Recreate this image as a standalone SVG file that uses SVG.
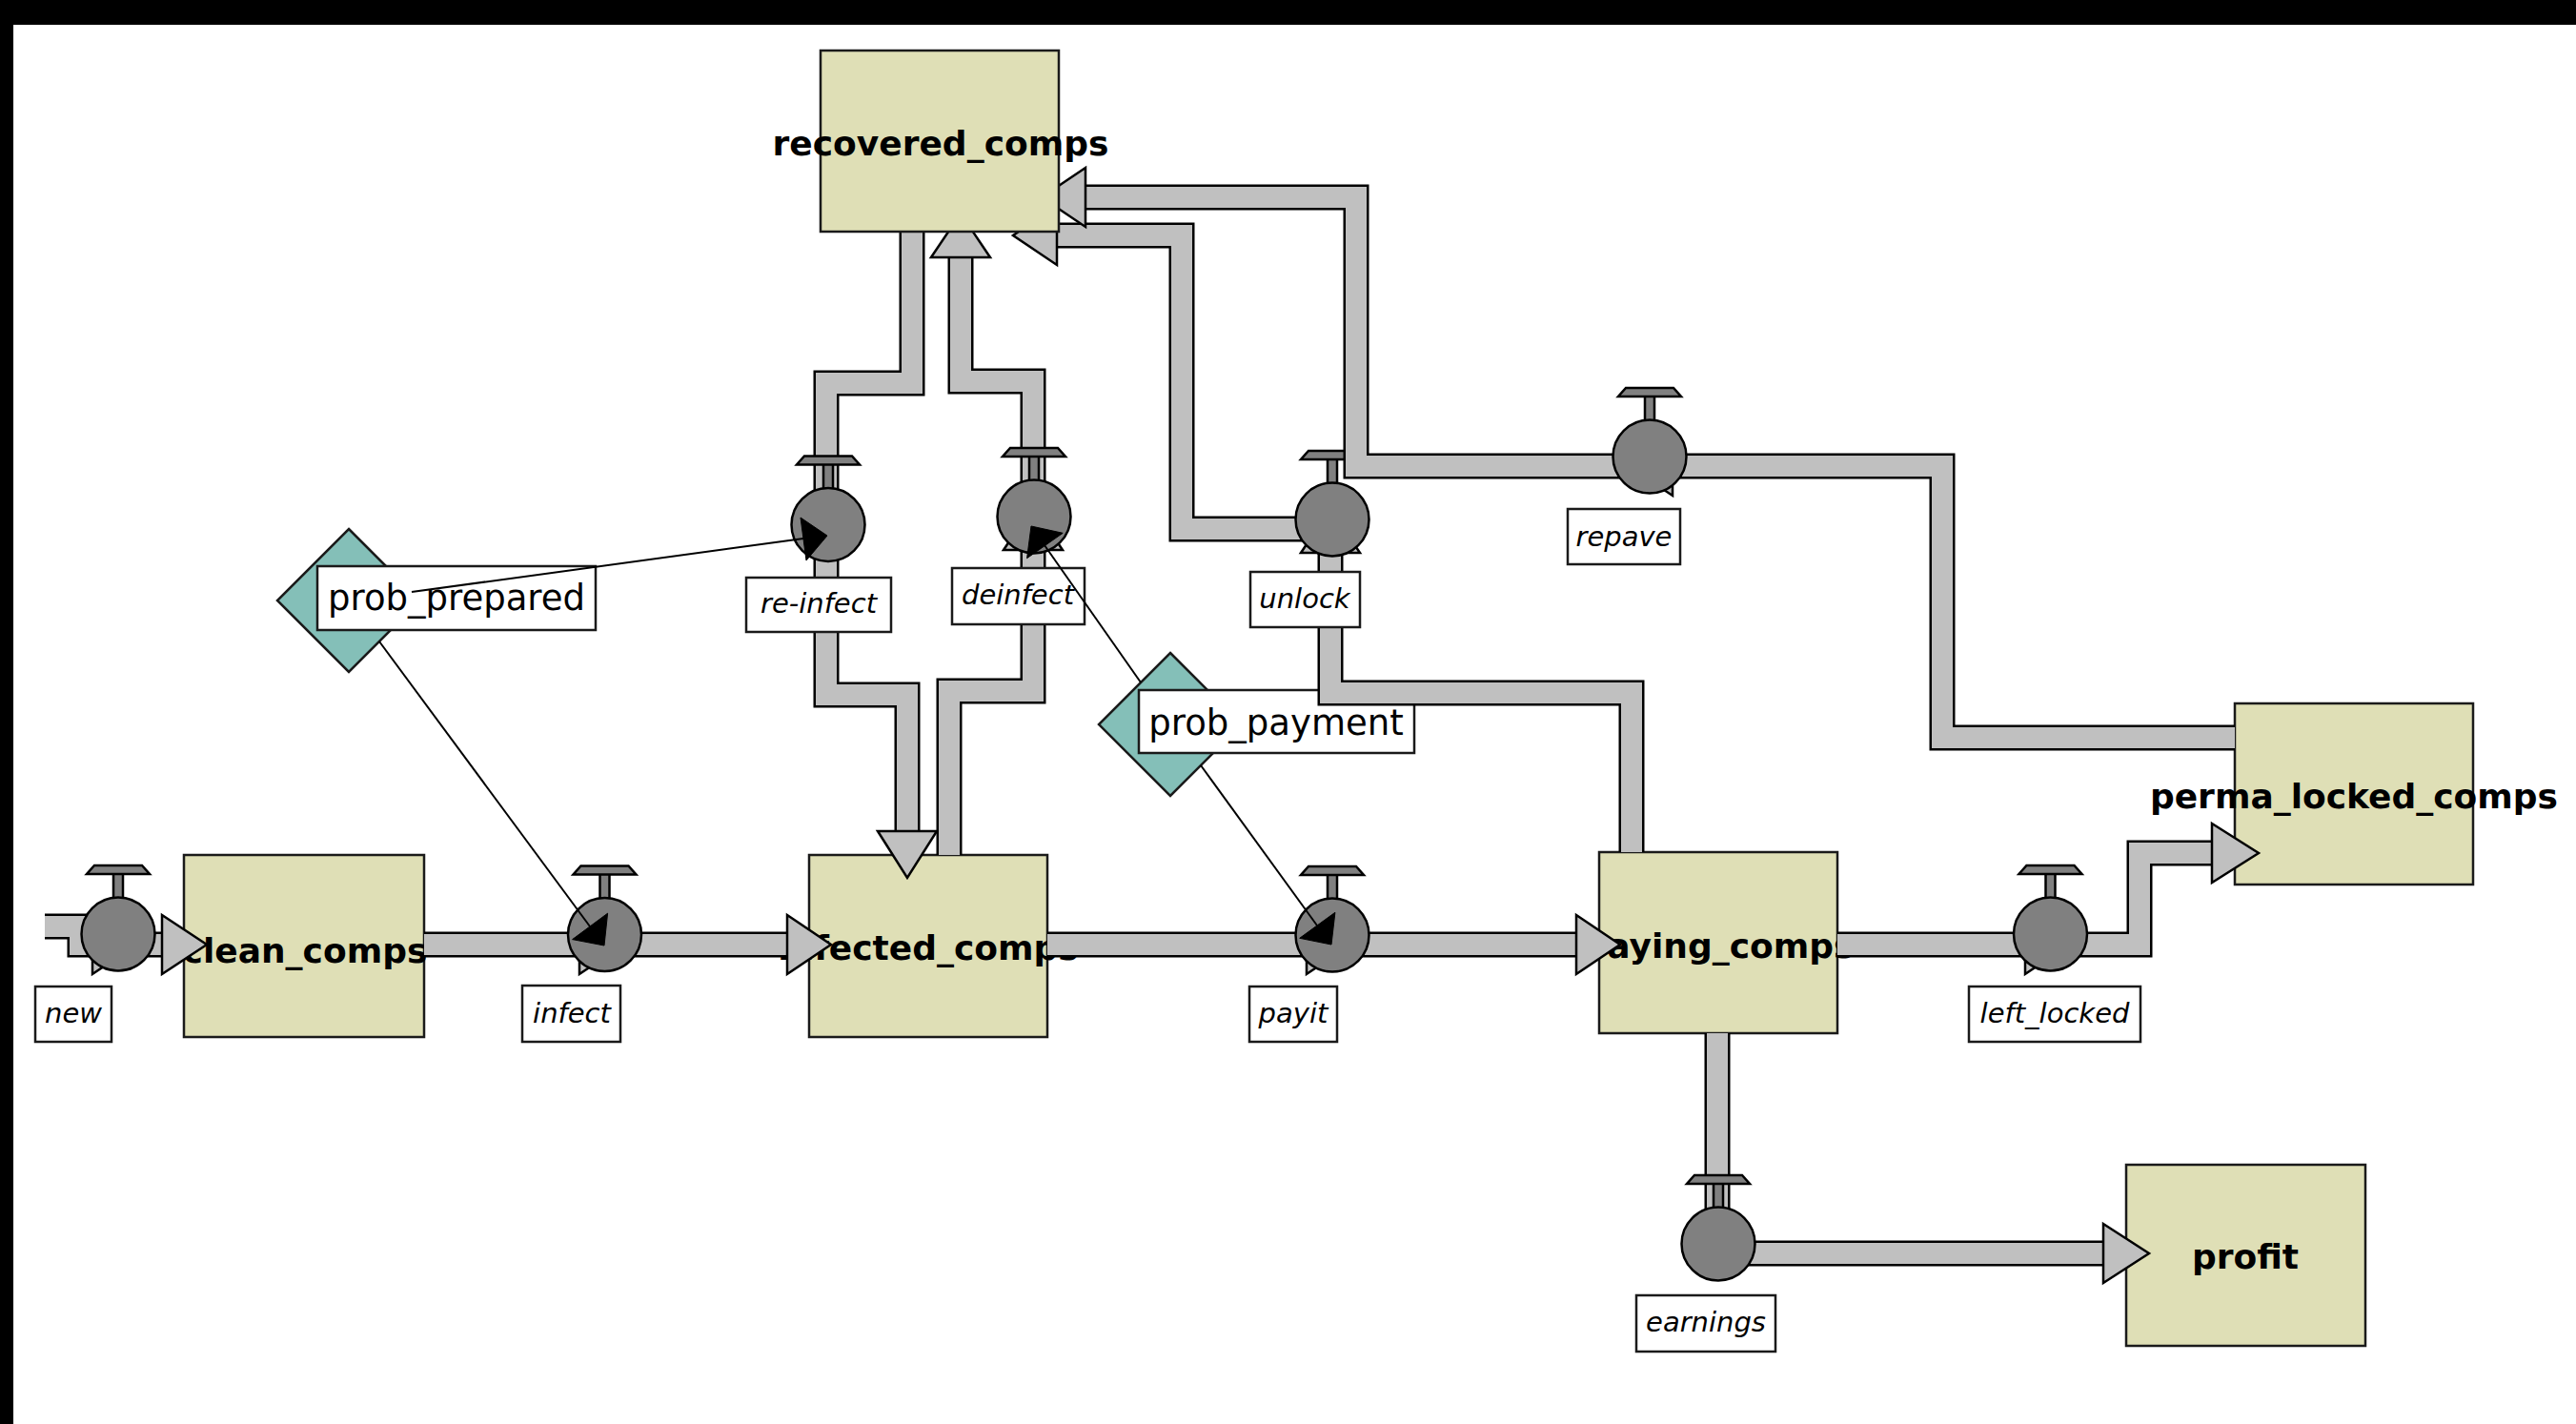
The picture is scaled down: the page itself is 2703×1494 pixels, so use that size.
<svg xmlns="http://www.w3.org/2000/svg" xmlns:xlink="http://www.w3.org/1999/xlink" width="2703" height="1494" viewBox="0 0 2703 1494">
<style>
.stock{fill:#dfdfb6;stroke:#1a1a1a;stroke-width:2.5}
.stxt{font-family:"DejaVu Sans",sans-serif;font-weight:bold;font-size:36px;fill:#000;text-anchor:middle}
.pipeO{fill:none;stroke:#000;stroke-width:27;stroke-linejoin:miter;stroke-linecap:butt}
.pipeI{fill:none;stroke:#c0c0c0;stroke-width:22;stroke-linejoin:miter;stroke-linecap:butt}
.head{fill:#c0c0c0;stroke:#000;stroke-width:2.5;stroke-linejoin:miter}
.vfill{fill:#808080;stroke:#000;stroke-width:2.5}
.lbl{fill:#fff;stroke:#1a1a1a;stroke-width:2.5}
.ftxt{font-family:"DejaVu Sans",sans-serif;font-style:italic;font-size:29px;fill:#000;text-anchor:middle}
.vtxt{font-family:"DejaVu Sans",sans-serif;font-size:37px;fill:#000;text-anchor:middle}
.dia{fill:#84bfb8;stroke:#1a1a1a;stroke-width:2.5}
.link{stroke:#000;stroke-width:2;fill:none}
.lhead{fill:#000;stroke:#000;stroke-width:1}
</style>
<defs>
<g id="valve">
<rect x="-5" y="-64" width="10" height="27" class="vfill" stroke-width="2"/>
<polygon points="-25,-72 25,-72 33,-63 -33,-63" class="vfill" stroke-width="2"/>
<circle cx="0" cy="0" r="38.5" class="vfill"/>
</g>
</defs>
<rect x="0" y="0" width="2703" height="1494" fill="#fff"/>
<rect x="0" y="0" width="2703" height="26" fill="#000"/>
<rect x="0" y="0" width="14" height="1494" fill="#000"/>

<g id="clean_comps">
<rect x="193" y="897" width="252" height="191" class="stock"/>
<text x="320" y="1010" class="stxt">clean_comps</text>
</g>
<g id="infected_comps">
<rect x="849" y="897" width="250" height="191" class="stock"/>
<text x="974" y="1007" class="stxt">infected_comps</text>
</g>
<g id="paying_comps">
<rect x="1678" y="894" width="250" height="190" class="stock"/>
<text x="1803" y="1005" class="stxt">paying_comps</text>
</g>
<g id="perma_locked_comps">
<rect x="2345" y="738" width="250" height="190" class="stock"/>
<text x="2470" y="848" class="stxt">perma_locked_comps</text>
</g>
<g id="profit">
<rect x="2231" y="1222" width="251" height="190" class="stock"/>
<text x="2356" y="1331" class="stxt">profit</text>
</g>

<g id="prob_prepared">
<polygon points="366,555 441,630 366,705 291,630" class="dia"/>
<rect x="333" y="594" width="292" height="67" class="lbl"/>
<text x="479" y="640" class="vtxt">prob_prepared</text>
</g>
<g id="prob_payment">
<polygon points="1228,685 1303,760 1228,835 1153,760" class="dia"/>
<rect x="1195" y="724" width="289" height="66" class="lbl"/>
<text x="1339" y="771" class="vtxt">prob_payment</text>
</g>

<g id="connectors">
<g id="flow_new">
<path d="M47,972 H84 V991 H172" class="pipeO"/><path d="M47,972 H84 V991 H172" class="pipeI"/>
<polygon points="170,960 217,991 170,1022" class="head"/>
<polygon points="97,960 143,991 97,1022" class="head"/>
<use xlink:href="#valve" href="#valve" x="124" y="980"/>
</g>
<g id="flow_infect">
<path d="M445,991 H828" class="pipeO"/><path d="M445,991 H828" class="pipeI"/>
<polygon points="826,960 872,991 826,1022" class="head"/>
<polygon points="608,960 654,991 608,1022" class="head"/>
<use xlink:href="#valve" href="#valve" x="634.5" y="980.5"/>
</g>
<g id="flow_payit">
<path d="M1099,991 H1656" class="pipeO"/><path d="M1099,991 H1656" class="pipeI"/>
<polygon points="1654,960 1700,991 1654,1022" class="head"/>
<polygon points="1371,960 1417,991 1371,1022" class="head"/>
<use xlink:href="#valve" href="#valve" x="1398" y="981"/>
</g>
<g id="flow_left_locked">
<path d="M1928,991 H2245 V895 H2323" class="pipeO"/><path d="M1928,991 H2245 V895 H2323" class="pipeI"/>
<polygon points="2321,864 2370,895 2321,926" class="head"/>
<polygon points="2125,960 2171,991 2125,1022" class="head"/>
<use xlink:href="#valve" href="#valve" x="2151.5" y="980"/>
</g>
<g id="flow_earnings">
<path d="M1802,1084 V1315 H2209" class="pipeO"/><path d="M1802,1084 V1315 H2209" class="pipeI"/>
<polygon points="2207,1284 2255,1315 2207,1346" class="head"/>
<use xlink:href="#valve" href="#valve" x="1803" y="1305"/>
</g>
<g id="flow_re-infect">
<path d="M957,243 V402 H867 V729 H952 V874" class="pipeO"/><path d="M957,243 V402 H867 V729 H952 V874" class="pipeI"/>
<polygon points="921,872 952,921 983,872" class="head"/>
<use xlink:href="#valve" href="#valve" x="869" y="550.5"/>
</g>
<g id="flow_deinfect">
<path d="M996,897 V725 H1084 V400 H1008 V268" class="pipeO"/><path d="M996,897 V725 H1084 V400 H1008 V268" class="pipeI"/>
<polygon points="977,270 1008,224 1039,270" class="head"/>
<polygon points="1053,577 1084,531 1115,577" class="head"/>
<use xlink:href="#valve" href="#valve" x="1085" y="542"/>
</g>
<g id="flow_unlock">
<path d="M1712,894 V727 H1396 V555 H1240 V247 H1107" class="pipeO"/><path d="M1712,894 V727 H1396 V555 H1240 V247 H1107" class="pipeI"/>
<polygon points="1109,216 1063,247 1109,278" class="head"/>
<polygon points="1365,580 1396,534 1427,580" class="head"/>
<use xlink:href="#valve" href="#valve" x="1398" y="545"/>
</g>
<g id="flow_repave">
<path d="M2345,774 H2038 V489 H1423 V207 H1137" class="pipeO"/><path d="M2345,774 H2038 V489 H1423 V207 H1137" class="pipeI"/>
<polygon points="1139,176 1093,207 1139,238" class="head"/>
<polygon points="1755,458 1709,489 1755,520" class="head"/>
<use xlink:href="#valve" href="#valve" x="1731" y="479"/>
</g>
</g>

<g id="recovered_comps">
<rect x="861" y="53" width="250" height="190" class="stock"/>
<text x="987" y="163" class="stxt">recovered_comps</text>
</g>

<g id="flow_labels">
<g id="lbl_new"><rect x="37" y="1035" width="80" height="58" class="lbl"/><text x="77" y="1073" class="ftxt">new</text></g>
<g id="lbl_infect"><rect x="548" y="1034" width="103" height="59" class="lbl"/><text x="600" y="1073" class="ftxt">infect</text></g>
<g id="lbl_payit"><rect x="1311" y="1035" width="92" height="58" class="lbl"/><text x="1357" y="1073" class="ftxt">payit</text></g>
<g id="lbl_left_locked"><rect x="2066" y="1035" width="180" height="58" class="lbl"/><text x="2156" y="1073" class="ftxt">left_locked</text></g>
<g id="lbl_earnings"><rect x="1717" y="1359" width="146" height="59" class="lbl"/><text x="1790" y="1397" class="ftxt">earnings</text></g>
<g id="lbl_re-infect"><rect x="783" y="606" width="152" height="57" class="lbl"/><text x="859" y="643" class="ftxt">re-infect</text></g>
<g id="lbl_deinfect"><rect x="999" y="596" width="139" height="59" class="lbl"/><text x="1068" y="634" class="ftxt">deinfect</text></g>
<g id="lbl_unlock"><rect x="1312" y="600" width="115" height="58" class="lbl"/><text x="1369" y="638" class="ftxt">unlock</text></g>
<g id="lbl_repave"><rect x="1645" y="534" width="118" height="58" class="lbl"/><text x="1704" y="573" class="ftxt">repave</text></g>
</g>

<g id="links">
<line x1="432" y1="621" x2="843" y2="565" class="link"/>
<polygon points="868,562 846,588 840,543" class="lhead"/>
<line x1="398" y1="673" x2="619" y2="972" class="link"/>
<polygon points="634,992 637.6,958.2 600.6,985.6" class="lhead"/>
<line x1="1197" y1="716" x2="1096" y2="572" class="link"/>
<polygon points="1082,552 1115.2,559.3 1077.6,585.7" class="lhead"/>
<line x1="1260" y1="803" x2="1382" y2="971" class="link"/>
<polygon points="1397,991 1400.9,957.3 1363.7,984.3" class="lhead"/>
</g>
</svg>
